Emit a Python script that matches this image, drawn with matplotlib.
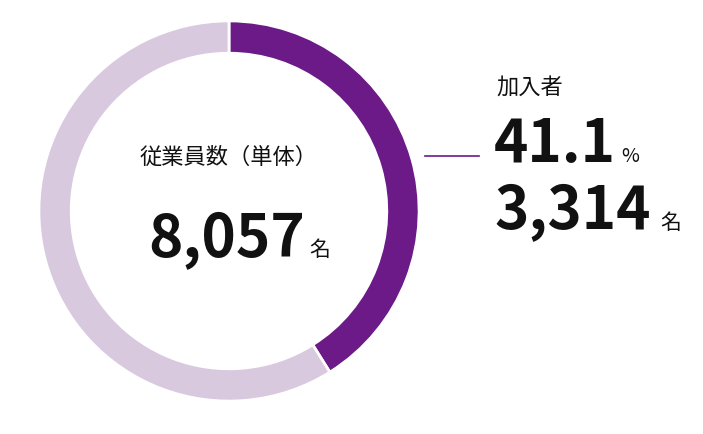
import matplotlib.pyplot as plt

plt.rcParams['font.family'] = ['Noto Sans CJK JP', 'DejaVu Sans']

labels = ['加入者', '非加入者']
shares = [41.1, 58.9]
colors = ['#6b1a87', '#d8c9df']
total = '8,057'
members = '3,314'

W, H = 703, 435
fig = plt.figure(figsize=(W / 100, H / 100), dpi=100)
cx, cy, r = 229, 212, 192
ax = fig.add_axes([(cx - r) / W, (H - cy - r) / H, 2 * r / W, 2 * r / H])
ax.pie(shares, colors=colors, startangle=90, counterclock=False, radius=1,
       wedgeprops=dict(width=0.17, edgecolor='white', linewidth=2))
ax.set_xlim(-1.01, 1.01)
ax.set_ylim(-1.01, 1.01)
ax.set_aspect('equal')


def px(x, y):
    return x / W, 1 - y / H


fig.text(*px(229, 157), '従業員数（単体）', fontsize=16, ha='center', va='center', color='#111')
fig.text(*px(305, 240), total, fontsize=42, fontweight='bold', ha='right', va='center', color='#111')
fig.text(*px(309, 250), '名', fontsize=15, ha='left', va='center', color='#111')

fig.add_artist(plt.Line2D([425 / W, 479 / W], [1 - 157 / H] * 2, color=colors[0], lw=1.2))
fig.text(*px(496, 88), labels[0], fontsize=16, ha='left', va='center', color='#111')
fig.text(*px(494, 145), '41.1', fontsize=42, fontweight='bold', ha='left', va='center', color='#111')
fig.text(*px(621, 156), '%', fontsize=14, ha='left', va='center', color='#111')
fig.text(*px(494, 212), members, fontsize=42, fontweight='bold', ha='left', va='center', color='#111')
fig.text(*px(660, 223), '名', fontsize=15, ha='left', va='center', color='#111')

fig.savefig('out.png', dpi=100)
